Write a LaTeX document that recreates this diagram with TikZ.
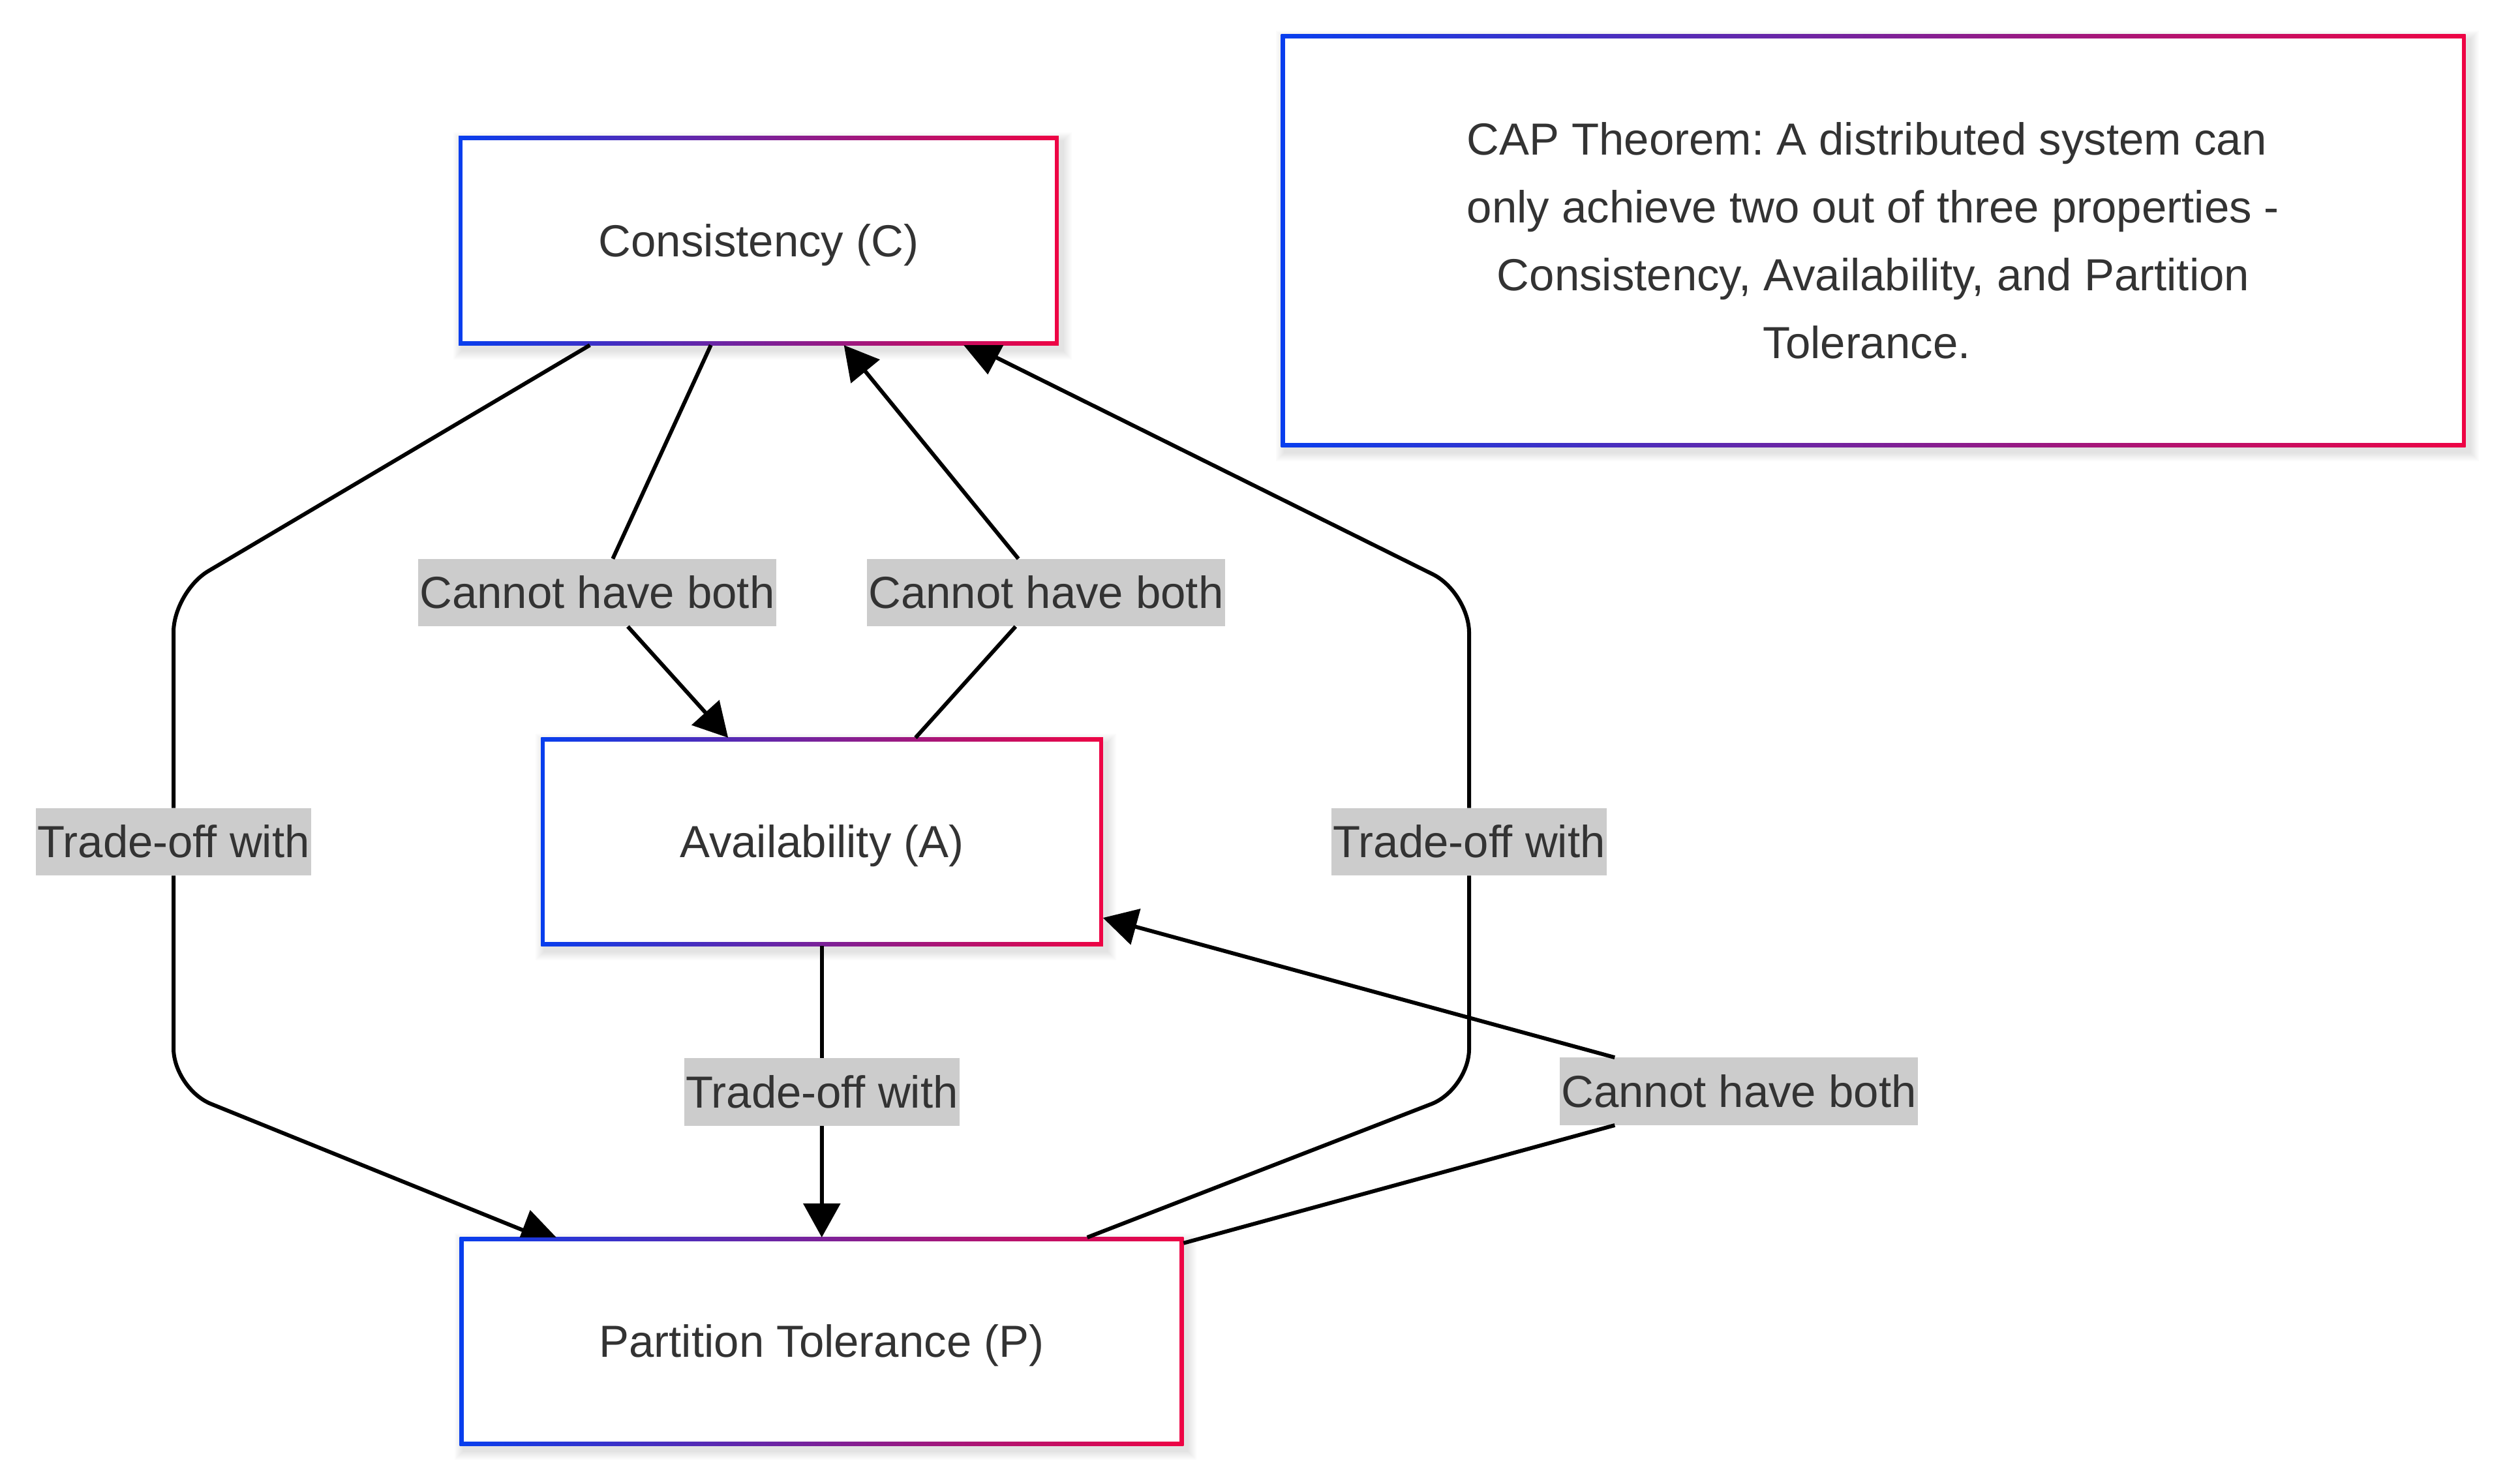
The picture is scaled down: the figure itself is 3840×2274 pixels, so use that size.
\documentclass[tikz,border=0pt]{standalone}
\usepackage{fontspec}
\setmainfont{Liberation Sans}
\usetikzlibrary{arrows.meta,calc,backgrounds}
\definecolor{cblue}{RGB}{8,62,238}
\definecolor{cred}{RGB}{238,4,68}
\definecolor{txt}{RGB}{51,51,51}
\definecolor{lblbg}{RGB}{204,204,204}
\frenchspacing
\newcommand{\nudge}{\hspace*{0.2cm}}
\begin{document}
\begin{tikzpicture}[x=0.01cm,y=-0.01cm,
  font=\fontsize{19.6}{29.6}\selectfont,
  prop/.style={rectangle, fill=white, text=txt, inner sep=0pt, outer sep=0.06cm, align=center},
  oneline/.style={text height=17.83pt, text depth=4.18pt},
  lbl/.style={rectangle, fill=lblbg, text=txt, inner xsep=0.02cm, inner ysep=3.77pt, text height=17.83pt, text depth=4.18pt, outer sep=0pt},
  edge/.style={line width=0.06cm, black},
  tip/.style={-{Triangle[length=0.52cm,width=0.56cm]}},
  roundbend/.style={rounded corners=0.62cm}
]
\useasboundingbox (0,0) rectangle (3840,2274);

% property nodes
\node[prop, oneline, minimum width=9.07cm, minimum height=3.08cm] (C) at (1163,369) {Consistency (C)};
\node[prop, oneline, minimum width=8.49cm, minimum height=3.07cm] (A) at (1260,1290.5) {Availability (A)};
\node[prop, oneline, minimum width=10.97cm, minimum height=3.07cm] (P) at (1259.5,2056.5) {Partition Tolerance (P)};
\node[prop, minimum width=18.03cm, minimum height=6.20cm] (N) at (2871.5,369) {CAP Theorem: A distributed system can\nudge\\only achieve two out of three properties -\nudge\\Consistency, Availability, and Partition\nudge\\Tolerance.\nudge};

% edge labels
\node[lbl] (L1) at (915.5,908.5) {Cannot have both};
\node[lbl] (L2) at (1603.5,908.5) {Cannot have both};
\node[lbl] (L3) at (266,1290.5) {Trade-off with};
\node[lbl] (L4) at (2252,1290.5) {Trade-off with};
\node[lbl] (L5) at (1260,1674) {Trade-off with};
\node[lbl] (L6) at (2665.5,1673) {Cannot have both};

% backgrounds: page, shadows, gradient borders
\begin{scope}[on background layer]
  \fill[white] (0,0) rectangle (3840,2274);
  \foreach \n in {C,A,P,N}{
    \foreach \r in {2,4,...,14}{
      \fill[black,opacity=0.016] ([shift={(6-\r,8+\r)}]\n.south west) rectangle ([shift={(6+\r,8-\r)}]\n.north east);
    }
    \shade[left color=cblue,right color=cred] (\n.south west) rectangle (\n.north east);
  }
\end{scope}

% straight edges
\draw[edge] (C) -- (L1);
\draw[edge,tip] (L1) -- (A);
\draw[edge] (A) -- (L2);
\draw[edge,tip] (L2) -- (C);
\draw[edge] (A) -- (L5);
\draw[edge,tip] (L5) -- (P);
\draw[edge] (P) -- (L6);
\draw[edge,tip] (L6) -- (A);

% routed edges
\coordinate (b1) at (266,907);
\coordinate (b2) at (266,1669);
\coordinate (b3) at (2252,1670);
\coordinate (b4) at (2252,908);

\draw[edge,roundbend] ($(C.south west)+(201,0)$) -- (b1) -- (L3.north);
\draw[edge,roundbend] (L3.south) -- (b2) -- ($(P.north west)+(107,-7)$);
\fill[black] ($(P.north west)+(92,0)$) -- ($(P.north west)+(148,0)$) -- ($(P.north west)+(108,-42)$) -- cycle;

\draw[edge,roundbend] ($(P.north west)+(962,0)$) -- (b3) -- (L4.south);
\draw[edge,roundbend] (L4.north) -- (b4) -- ($(C.south west)+(824,19)$);
\fill[black] ($(C.south west)+(774,0)$) -- ($(C.south west)+(835,0)$) -- ($(C.south west)+(811,45)$) -- cycle;
\end{tikzpicture}
\end{document}
